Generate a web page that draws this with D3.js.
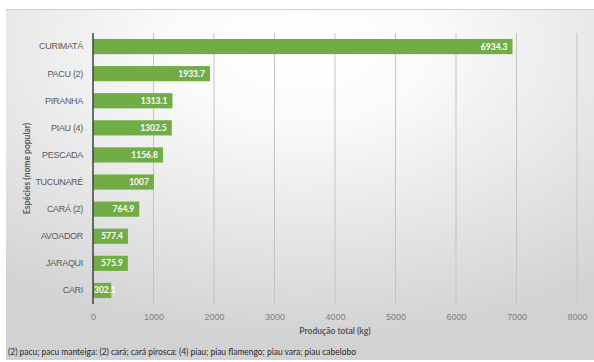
<!DOCTYPE html>
<meta charset="utf-8">
<script src="https://d3js.org/d3.v7.min.js"></script>
<style>
  body { margin: 0; background: #fff; }
  svg { display: block; font-family: Lato, "Open Sans", sans-serif; }
</style>
<div id="chart"></div>
<script>
// species (top to bottom) and total production in kg
const species = ["CURIMATÁ", "PACU (2)", "PIRANHA", "PIAU (4)", "PESCADA",
                 "TUCUNARÉ", "CARÁ (2)", "AVOADOR", "JARAQUI", "CARI"];
const production = [6934.3, 1933.7, 1313.1, 1302.5, 1156.8,
                    1007, 764.9, 577.4, 575.9, 302.1];
const xTicks = [0, 1000, 2000, 3000, 4000, 5000, 6000, 7000, 8000];

const W = 594, H = 362;
const margin = {top: 33, right: 17, bottom: 58, left: 93};

const svg = d3.select("#chart").append("svg")
    .attr("width", W).attr("height", H);

//  background panel with soft radial gradient
const defs = svg.append("defs");
const grad = defs.append("radialGradient")
    .attr("id", "bg")
    .attr("cx", "50%").attr("cy", "10%").attr("r", "85%");
grad.append("stop").attr("offset", "0%").attr("stop-color", "#ffffff");
grad.append("stop").attr("offset", "25%").attr("stop-color", "#fbfbfb");
grad.append("stop").attr("offset", "100%").attr("stop-color", "#d2d2d2");

svg.append("rect")
    .attr("x", 6).attr("y", 9)
    .attr("width", W - 6).attr("height", H - 11)
    .attr("fill", "url(#bg)");
svg.append("line")
    .attr("x1", 6).attr("x2", W).attr("y1", 9.5).attr("y2", 9.5)
    .attr("stroke", "#cfcfcf");

const x = d3.scaleLinear()
    .domain([0, 8000])
    .range([margin.left, W - margin.right]);

const y = d3.scaleBand()
    .domain(species)
    .range([margin.top, H - margin.bottom])
    .paddingInner(0.44)
    .paddingOuter(0.22);

//  vertical gridlines
svg.append("g")
    .selectAll("line")
    .data(xTicks.slice(1))
    .join("line")
        .attr("x1", d => x(d)).attr("x2", d => x(d))
        .attr("y1", margin.top).attr("y2", H - margin.bottom)
        .attr("stroke", "#c4c4c4")
        .attr("stroke-width", 1);

//  x axis tick labels
svg.append("g")
    .attr("transform", `translate(0, ${H - margin.bottom})`)
    .call(d3.axisBottom(x).tickValues(xTicks).tickSize(0).tickPadding(10).tickFormat(d3.format("d")))
    .call(g => g.select(".domain").remove())
    .call(g => g.selectAll("text")
        .attr("fill", "#7f7f7f")
        .style("font-size", "9px"));

//  bars
svg.append("g")
    .selectAll("rect")
    .data(species)
    .join("rect")
        .attr("x", x(0))
        .attr("y", d => y(d))
        .attr("width", (d, i) => x(production[i]) - x(0))
        .attr("height", y.bandwidth())
        .attr("fill", "#70ad47");

//  value labels, inside the end of each bar
svg.append("g")
    .selectAll("text")
    .data(species)
    .join("text")
        .attr("y", d => y(d) + y.bandwidth() / 2)
        .attr("dy", "0.35em")
        .attr("fill", "#ffffff")
        .style("font-size", "8.5px")
        .style("font-weight", "bold")
        .text((d, i) => String(production[i]))
        .each(function(d, i) {
            const w = this.getComputedTextLength();
            let xe = x(production[i]) - 5;
            if (xe - w < x(0) + 1) xe = x(0) + 1 + w;
            d3.select(this).attr("x", xe).attr("text-anchor", "end");
        });

//  y axis with category labels
svg.append("g")
    .attr("transform", `translate(${margin.left}, 0)`)
    .call(d3.axisLeft(y).tickSize(0).tickPadding(10))
    .call(g => g.select(".domain")
        .attr("d", `M0,${margin.top}V${H - margin.bottom}`)
        .attr("stroke", "#404040")
        .attr("stroke-width", 1.5))
    .call(g => g.selectAll("text")
        .attr("fill", "#595959")
        .style("font-size", "9px")
        .style("letter-spacing", "-0.3px"));

//  axis titles
svg.append("text")
    .attr("x", (x(0) + x(8000)) / 2)
    .attr("y", 334)
    .attr("text-anchor", "middle")
    .attr("fill", "#595959")
    .style("font-size", "8.5px")
    .style("font-weight", "bold")
    .text("Produção total (kg)");

svg.append("text")
    .attr("transform", `translate(30, ${(margin.top + H - margin.bottom) / 2}) rotate(-90)`)
    .attr("text-anchor", "middle")
    .attr("fill", "#595959")
    .style("font-size", "8.5px")
    .style("font-weight", "bold")
    .text("Espécies (nome popular)");

//  footnote
svg.append("text")
    .attr("x", 8)
    .attr("y", 355)
    .attr("fill", "#262626")
    .attr("textLength", 348)
    .attr("lengthAdjust", "spacingAndGlyphs")
    .style("font-size", "9.5px")
    .text("(2) pacu; pacu manteiga: (2) cará; cará pirosca: (4) piau; piau flamengo; piau vara; piau cabelobo");
</script>
